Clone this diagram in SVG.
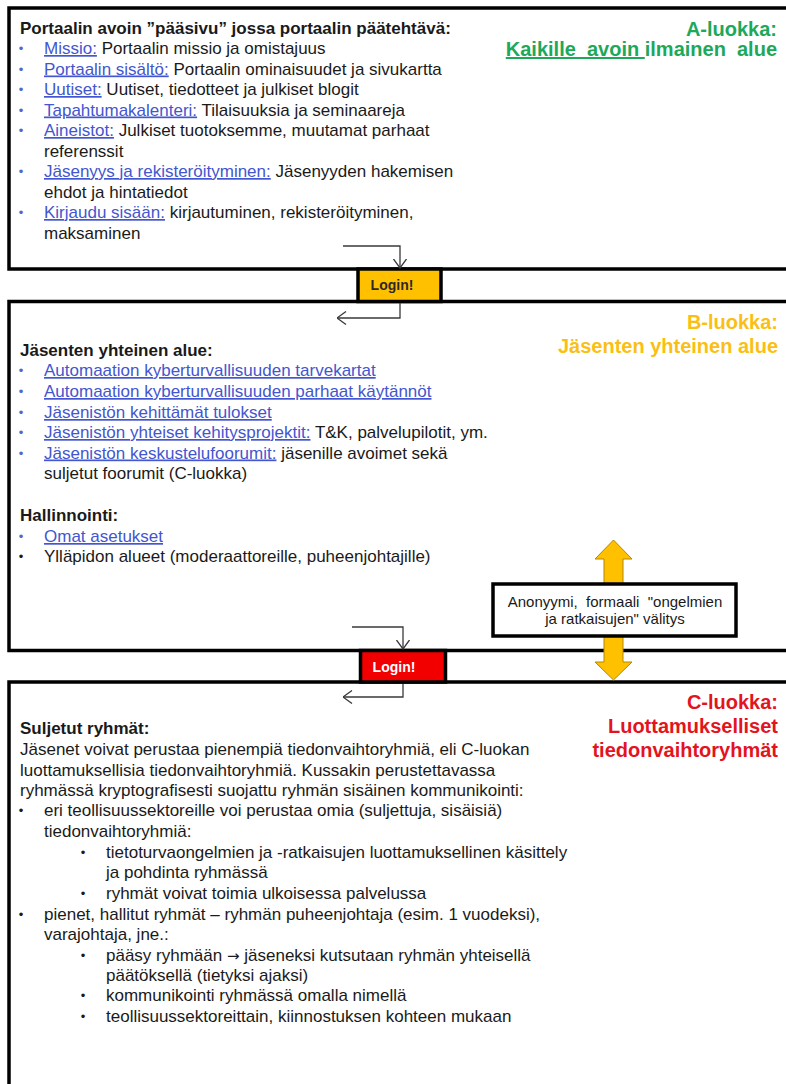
<svg xmlns="http://www.w3.org/2000/svg" width="786" height="1084" viewBox="0 0 786 1084">
  <style>
    .t{font-family:"Liberation Sans",Arial,sans-serif;font-size:17px;fill:#1a1a1a}
    .b{font-weight:bold}
    .lk{fill:#4356cf;text-decoration:underline}
    .bu{font-family:"Liberation Sans",Arial,sans-serif;font-size:13px;fill:#1a1a1a;text-anchor:middle}
    .bub{fill:#5467c8}
    .arr{font-family:"DejaVu Sans",sans-serif;font-size:15px}
    .lbl{font-family:"Liberation Sans",Arial,sans-serif;font-size:20px;font-weight:bold;text-anchor:end;white-space:pre}
    .frame{fill:none;stroke:#000;stroke-width:3.5}
    .login{font-family:"Liberation Sans",Arial,sans-serif;font-size:14px;font-weight:bold;text-anchor:middle}
    .conn{fill:none;stroke:#3a3a3a;stroke-width:1.3}
    .anon{font-family:"Liberation Sans",Arial,sans-serif;font-size:15px;fill:#1a1a1a;text-anchor:middle;white-space:pre}
  </style>
  <defs>
    <marker id="open" viewBox="0 0 10 14" markerWidth="10" markerHeight="14" refX="9.5" refY="7" orient="auto" markerUnits="userSpaceOnUse">
      <path d="M0.5,0.5 L9.5,7 L0.5,13.5" fill="none" stroke="#3a3a3a" stroke-width="1.3"/>
    </marker>
  </defs>
  <rect width="786" height="1084" fill="#fff"/>

  <!-- A: open area -->
  <g id="class-a">
    <rect class="frame" x="9" y="8" width="790" height="261"/>
    <text class="t b" x="20" y="34">Portaalin avoin ”pääsivu” jossa portaalin päätehtävä:</text>
    <text class="bu bub" x="21" y="53">•</text>
    <text class="t" x="44" y="54"><tspan class="lk">Missio:</tspan> Portaalin missio ja omistajuus</text>
    <text class="bu bub" x="21" y="73.5">•</text>
    <text class="t" x="44" y="74.5"><tspan class="lk">Portaalin sisältö:</tspan> Portaalin ominaisuudet ja sivukartta</text>
    <text class="bu bub" x="21" y="94">•</text>
    <text class="t" x="44" y="95"><tspan class="lk">Uutiset:</tspan> Uutiset, tiedotteet ja julkiset blogit</text>
    <text class="bu bub" x="21" y="114.5">•</text>
    <text class="t" x="44" y="115.5"><tspan class="lk">Tapahtumakalenteri:</tspan> Tilaisuuksia ja seminaareja</text>
    <text class="bu bub" x="21" y="135">•</text>
    <text class="t" x="44" y="136"><tspan class="lk">Aineistot:</tspan> Julkiset tuotoksemme, muutamat parhaat</text>
    <text class="t" x="44" y="156.5">referenssit</text>
    <text class="bu bub" x="21" y="176">•</text>
    <text class="t" x="44" y="177"><tspan class="lk">Jäsenyys ja rekisteröityminen:</tspan> Jäsenyyden hakemisen</text>
    <text class="t" x="44" y="197.5">ehdot ja hintatiedot</text>
    <text class="bu bub" x="21" y="217">•</text>
    <text class="t" x="44" y="218"><tspan class="lk">Kirjaudu sisään:</tspan> kirjautuminen, rekisteröityminen,</text>
    <text class="t" x="44" y="238.5">maksaminen</text>
    <text class="lbl" x="777" y="36" fill="#1da85a">A-luokka:</text>
    <text class="lbl" x="777" y="56" fill="#1da85a"><tspan text-decoration="underline">Kaikille  avoin </tspan>ilmainen  alue</text>
  </g>

  <!-- B: members area -->
  <g id="class-b">
    <rect class="frame" x="9" y="301.5" width="790" height="349"/>
    <text class="t b" x="20" y="356">Jäsenten yhteinen alue:</text>
    <text class="bu bub" x="21" y="375">•</text>
    <text class="t" x="44" y="376"><tspan class="lk">Automaation kyberturvallisuuden tarvekartat</tspan></text>
    <text class="bu bub" x="21" y="396">•</text>
    <text class="t" x="44" y="397"><tspan class="lk">Automaation kyberturvallisuuden parhaat käytännöt</tspan></text>
    <text class="bu bub" x="21" y="417">•</text>
    <text class="t" x="44" y="418"><tspan class="lk">Jäsenistön kehittämät tulokset</tspan></text>
    <text class="bu bub" x="21" y="437">•</text>
    <text class="t" x="44" y="438"><tspan class="lk">Jäsenistön yhteiset kehitysprojektit:</tspan> T&amp;K, palvelupilotit, ym.</text>
    <text class="bu bub" x="21" y="457.5">•</text>
    <text class="t" x="44" y="458.5"><tspan class="lk">Jäsenistön keskustelufoorumit:</tspan> jäsenille avoimet sekä</text>
    <text class="t" x="44" y="479">suljetut foorumit (C-luokka)</text>
    <text class="t b" x="20" y="521">Hallinnointi:</text>
    <text class="bu bub" x="21" y="541">•</text>
    <text class="t" x="44" y="542"><tspan class="lk">Omat asetukset</tspan></text>
    <text class="bu" x="21" y="561">•</text>
    <text class="t" x="44" y="562">Ylläpidon alueet (moderaattoreille, puheenjohtajille)</text>
    <text class="lbl" x="778" y="329" fill="#fbbf14">B-luokka:</text>
    <text class="lbl" x="778" y="353" fill="#fbbf14">Jäsenten yhteinen alue</text>
  </g>

  <!-- C: closed groups -->
  <g id="class-c">
    <rect class="frame" x="9" y="682" width="790" height="420"/>
    <text class="t b" x="20" y="734">Suljetut ryhmät:</text>
    <text class="t" x="20" y="755">Jäsenet voivat perustaa pienempiä tiedonvaihtoryhmiä, eli C-luokan</text>
    <text class="t" x="20" y="776">luottamuksellisia tiedonvaihtoryhmiä. Kussakin perustettavassa</text>
    <text class="t" x="20" y="796">ryhmässä kryptografisesti suojattu ryhmän sisäinen kommunikointi:</text>
    <text class="bu" x="21" y="815">•</text>
    <text class="t" x="44" y="816">eri teollisuussektoreille voi perustaa omia (suljettuja, sisäisiä)</text>
    <text class="t" x="44" y="837">tiedonvaihtoryhmiä:</text>
    <text class="bu" x="83" y="857">•</text>
    <text class="t" x="106" y="858">tietoturvaongelmien ja -ratkaisujen luottamuksellinen käsittely</text>
    <text class="t" x="106" y="878">ja pohdinta ryhmässä</text>
    <text class="bu" x="83" y="898">•</text>
    <text class="t" x="106" y="899">ryhmät voivat toimia ulkoisessa palvelussa</text>
    <text class="bu" x="21" y="919">•</text>
    <text class="t" x="44" y="920">pienet, hallitut ryhmät – ryhmän puheenjohtaja (esim. 1 vuodeksi),</text>
    <text class="t" x="44" y="940">varajohtaja, jne.:</text>
    <text class="bu" x="83" y="960">•</text>
    <text class="t" x="106" y="961">pääsy ryhmään <tspan class="arr">→</tspan> jäseneksi kutsutaan ryhmän yhteisellä</text>
    <text class="t" x="106" y="981">päätöksellä (tietyksi ajaksi)</text>
    <text class="bu" x="83" y="1000">•</text>
    <text class="t" x="106" y="1001">kommunikointi ryhmässä omalla nimellä</text>
    <text class="bu" x="83" y="1021">•</text>
    <text class="t" x="106" y="1022">teollisuussektoreittain, kiinnostuksen kohteen mukaan</text>
    <text class="lbl" x="778" y="709" fill="#e3141e">C-luokka:</text>
    <text class="lbl" x="778" y="733" fill="#e3141e">Luottamukselliset</text>
    <text class="lbl" x="778" y="757" fill="#e3141e">tiedonvaihtoryhmät</text>
  </g>

  <!-- login gates between the areas -->
  <g id="login-b">
    <rect x="358" y="269" width="83" height="32.5" fill="#ffc000" stroke="#000" stroke-width="3.5"/>
    <text class="login" x="392" y="290" fill="#2a2a2a">Login!</text>
  </g>
  <g id="login-c">
    <rect x="360.5" y="650.5" width="85" height="31.5" fill="#f20000" stroke="#000" stroke-width="3.5"/>
    <text class="login" x="394" y="672" fill="#fff">Login!</text>
  </g>

  <!-- entry connectors through the gates -->
  <g id="connectors">
    <polyline class="conn" points="343,246 400,246 400,268" marker-end="url(#open)"/>
    <polyline class="conn" points="400,303 400,318 337,318" marker-end="url(#open)"/>
    <polyline class="conn" points="352,627 403,627 403,649" marker-end="url(#open)"/>
    <polyline class="conn" points="403,684 403,697 343,697" marker-end="url(#open)"/>
    <polygon id="exchange-arrow" points="613.5,540 632,559 623,559 623,662 632,662 613.5,680 595,662 604,662 604,559 595,559" fill="#ffc000" stroke="#b08a00" stroke-width="1"/>
  </g>

  <g id="anon-exchange">
    <rect x="493" y="584" width="243" height="52" fill="#fff" stroke="#000" stroke-width="3.5"/>
    <text class="anon" x="615" y="607">Anonyymi,  formaali  "ongelmien</text>
    <text class="anon" x="615" y="624">ja ratkaisujen" välitys</text>
  </g>
</svg>
